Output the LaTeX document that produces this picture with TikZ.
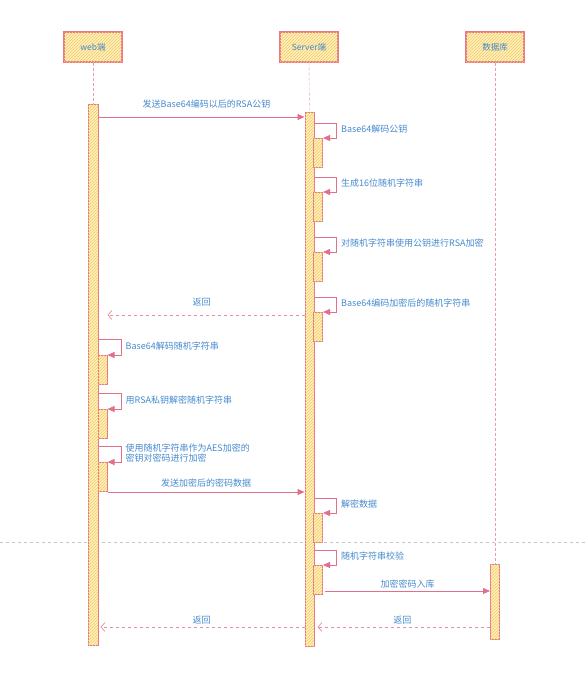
\documentclass[tikz,border=0pt]{standalone}
\usepackage{fontspec}
\setmainfont{Noto Sans CJK SC}
\usetikzlibrary{arrows.meta,patterns,calc}

\definecolor{seqpink}{RGB}{226,112,140}
\definecolor{seqedge}{RGB}{232,120,135}
\definecolor{seqblue}{RGB}{70,138,205}
\definecolor{seqfill}{RGB}{255,242,180}
\definecolor{seqhatch}{RGB}{242,200,120}

\tikzset{
    actor/.style={draw=seqedge, line width=1.3pt, fill=seqfill,
        postaction={pattern=north east lines, pattern color=seqhatch},
        minimum width=58pt, minimum height=30pt, text=seqblue,
        font=\fontsize{8.5}{10}\selectfont},
    bar/.style={draw=seqedge, line width=1pt, fill=seqfill,
        postaction={pattern=north east lines, pattern color=seqhatch},
        minimum width=9pt, inner sep=0pt, anchor=north},
    life/.style={seqpink!70, densely dashed},
    msg/.style={seqpink, line width=0.8pt, -{Triangle[length=7pt,width=6pt]}},
    ret/.style={seqpink!80, line width=0.7pt, dashed, -{Straight Barb[length=4pt,width=9pt]}},
    lbl/.style={text=seqblue, font=\fontsize{9}{10.5}\selectfont, inner sep=1pt, align=left},
}

\begin{document}
\begin{tikzpicture}[x=1pt, y=-1pt]
    \useasboundingbox (0,0) rectangle (587,681);

    % Separator
    \draw[gray!45, dashed, line width=0.5pt] (0,542) -- (587,542);

    % Participants
    \node[actor] (web) at (93,47) {web端};
    \node[actor] (server) at (309,47) {Server端};
    \node[actor] (db) at (495,47) {数据库};

    % Activation bars
    \node[bar, minimum width=10pt, minimum height=541pt] (webbar) at (93,104) {};
    \node[bar, minimum height=534pt] (srvbar) at (309.5,112) {};
    \node[bar, minimum height=75pt] (dbbar) at (495,564) {};

    % Lifelines
    \draw[life] (web.south) -- (webbar.north);
    \draw[life] (server.south) -- (srvbar.north);
    \draw[life] (db.south) -- (dbbar.north);

    % Server self calls
    \foreach \n/\y/\label in {1/138/Base64解码公钥, 2/192/生成16位随机字符串,
        3/252/对随机字符串使用公钥进行RSA加密, 4/312/Base64编码加密后的随机字符串,
        5/513/解密数据, 6/565/随机字符串校验} {
        \node[bar, minimum height=29pt] (s\n) at (318,\y) {};
        \draw[msg] (srvbar.east |- s\n.north) ++(0,-15) -- ++(22,0) |- (s\n.north east);
        \node[lbl, anchor=west] (sl\n) at ($(s\n.north east)+(17,-9)$) {\label};
    }

    % Web self calls
    \foreach \n/\y/\label in {1/355/Base64解码随机字符串, 2/409/用RSA私钥解密随机字符串,
        3/462/{使用随机字符串作为AES加密的\\密钥对密码进行加密}} {
        \node[bar, minimum height=29pt] (w\n) at (102.5,\y) {};
        \draw[msg] (webbar.east |- w\n.north) ++(0,-16) -- ++(23,0) |- (w\n.north east);
        \node[lbl, anchor=west] (wl\n) at ($(w\n.north east)+(17,-9)$) {\label};
    }

    % Messages
    \draw[msg] (webbar.east |- 0,117) -- (srvbar.west |- 0,117)
        node[lbl, midway, above=7pt, xshift=5pt] (m1) {发送Base64编码以后的RSA公钥};
    \draw[ret, shorten >=9pt] (srvbar.west |- 0,315) -- (webbar.east |- 0,315)
        node[lbl, midway, above=7pt] (r1) {返回};
    \draw[msg] (w3.south east) -- (srvbar.west |- w3.south east)
        node[lbl, midway, above=3pt] (m2) {发送加密后的密码数据};
    \draw[msg] ($(s6.east |- 0,591)+(2,0)$) -- (dbbar.west |- 0,591)
        node[lbl, midway, above=1pt] (m3) {加密密码入库};
    \draw[ret, shorten >=3pt] (dbbar.west |- 0,627) -- (srvbar.east |- 0,627)
        node[lbl, midway, above=1pt] (r2) {返回};
    \draw[ret, shorten >=2pt] (srvbar.west |- 0,627) -- (webbar.east |- 0,627)
        node[lbl, midway, above=1pt] (r3) {返回};
\end{tikzpicture}
\end{document}
